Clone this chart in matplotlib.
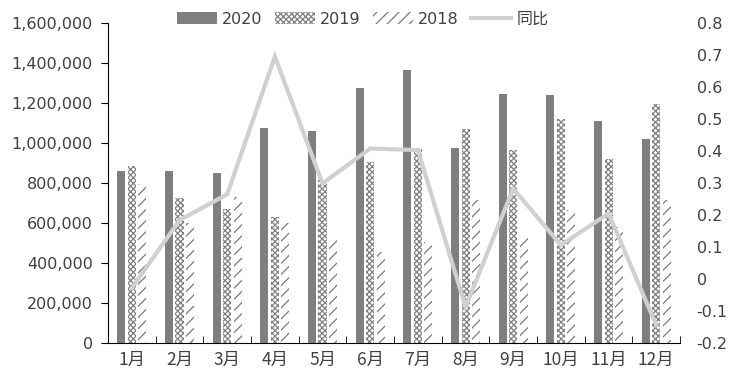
import numpy as np
import matplotlib.pyplot as plt
from matplotlib.patches import Patch
from matplotlib.lines import Line2D
from matplotlib.ticker import FuncFormatter

plt.rcParams['font.family'] = ['DejaVu Sans', 'Noto Sans CJK SC']
plt.rcParams['hatch.linewidth'] = 0.9

# data
months = ['1月', '2月', '3月', '4月', '5月', '6月', '7月', '8月', '9月', '10月', '11月', '12月']
v2020 = [860000, 860000, 850000, 1077000, 1060000, 1275000, 1365000, 977000, 1245000, 1240000, 1112000, 1022000]
v2019 = [886000, 727000, 670000, 630000, 815000, 907000, 970000, 1070000, 965000, 1120000, 920000, 1195000]
v2018 = [795000, 600000, 730000, 598000, 520000, 457000, 507000, 715000, 537000, 665000, 582000, 715000]
yoy = [-0.028, 0.184, 0.265, 0.695, 0.299, 0.408, 0.403, -0.087, 0.283, 0.106, 0.205, -0.144]

txt = '#404040'
fig = plt.figure(figsize=(7.4, 3.85), dpi=100)
ax = fig.add_axes([0.146, 0.109, 0.773, 0.831])

x = np.arange(len(months))
w = 0.17
off = 0.22
ax.bar(x - off, v2020, w, color='#7f7f7f', label='2020')
ax.bar(x, v2019, w, color='white', edgecolor='#808080', hatch='xxxxxx', linewidth=0, label='2019')
ax.bar(x + off, v2018, w, color='white', edgecolor='#7a7a7a', hatch='///', linewidth=0, label='2018')

ax.set_xlim(-0.5, 11.5)
ax.set_ylim(0, 1600000)
ax.set_yticks(np.arange(0, 1600001, 200000))
ax.yaxis.set_major_formatter(FuncFormatter(lambda v, p: f'{int(v):,}'))
ax.set_xticks(x)
ax.set_xticklabels(months, fontfamily=['Noto Sans CJK SC'])
ax.set_xticks(np.arange(-0.5, 12, 1), minor=True)
ax.tick_params(axis='x', which='major', length=0, pad=6, labelsize=12.5, labelcolor=txt)
ax.tick_params(axis='x', which='minor', length=5, direction='in')
ax.tick_params(axis='y', length=5, direction='out', labelsize=11.5, labelcolor=txt, pad=6)
for s in ['top', 'right']:
    ax.spines[s].set_visible(False)

ax2 = ax.twinx()
ax2.plot(x, yoy, color='#d0d0d0', lw=3, solid_joinstyle='miter')
ax2.set_ylim(-0.2, 0.8)
ax2.set_yticks(np.arange(-0.2, 0.81, 0.1))
ax2.yaxis.set_major_formatter(FuncFormatter(lambda v, p: '0' if abs(v) < 1e-9 else f'{v:.1f}'))
ax2.tick_params(axis='y', length=0, labelsize=11.5, labelcolor=txt, pad=12)
for s in ['top', 'right', 'left', 'bottom']:
    ax2.spines[s].set_visible(False)

handles = [
    Patch(facecolor='#7f7f7f', label='2020'),
    Patch(facecolor='white', edgecolor='#808080', hatch='xxxxxx', linewidth=0, label='2019'),
    Patch(facecolor='white', edgecolor='#7a7a7a', hatch='///', linewidth=0, label='2018'),
    Line2D([], [], color='#d0d0d0', lw=3, label='同比'),
]
leg = fig.legend(handles=handles, loc='center', bbox_to_anchor=(0.49, 0.95), ncol=4, frameon=False,
                 handlelength=2.5, handleheight=0.8, columnspacing=0.8, handletextpad=0.3,
                 prop={'family': ['DejaVu Sans', 'Noto Sans CJK SC'], 'size': 11.5})
for t in leg.get_texts():
    t.set_color(txt)

fig.savefig('out.png', dpi=100)
